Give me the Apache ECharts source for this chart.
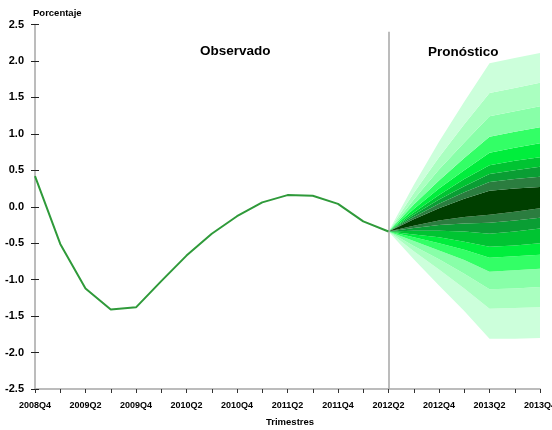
<!DOCTYPE html>
<html>
<head>
<meta charset="utf-8">
<script src="https://cdn.jsdelivr.net/npm/echarts@6/dist/echarts.min.js"></script>
<style>
html,body{margin:0;padding:0;background:#fff;}
#chart{width:552px;height:430px;}
</style>
</head>
<body>
<div id="chart"></div>
<script>
// Categories (quarters)
const quarters = ['2008Q4','2009Q1','2009Q2','2009Q3','2009Q4','2010Q1','2010Q2','2010Q3','2010Q4',
  '2011Q1','2011Q2','2011Q3','2011Q4','2012Q1','2012Q2','2012Q3','2012Q4','2013Q1','2013Q2','2013Q3','2013Q4'];
// Observed series 2008Q4..2012Q2
const observed = [0.42,-0.51,-1.12,-1.41,-1.38,-1.02,-0.67,-0.37,-0.13,0.06,0.16,0.15,0.04,-0.20,-0.34];
// Fan chart boundaries 2012Q2..2013Q4 (lowest to highest)
const fanQuarters = ['2012Q2','2012Q3','2012Q4','2013Q1','2013Q2','2013Q3','2013Q4'];
const lo9 = [-0.34,-0.72,-1.08,-1.43,-1.81,-1.81,-1.80];
const lo8 = [-0.34,-0.61,-0.86,-1.12,-1.40,-1.39,-1.38];
const lo7 = [-0.34,-0.54,-0.72,-0.92,-1.13,-1.12,-1.10];
const lo6 = [-0.34,-0.47,-0.60,-0.73,-0.89,-0.87,-0.85];
const lo5 = [-0.34,-0.42,-0.50,-0.59,-0.70,-0.68,-0.66];
const lo4 = [-0.34,-0.38,-0.42,-0.48,-0.55,-0.53,-0.50];
const lo3 = [-0.34,-0.33,-0.33,-0.34,-0.37,-0.34,-0.30];
const lo2 = [-0.34,-0.29,-0.25,-0.23,-0.22,-0.19,-0.15];
const lo1 = [-0.34,-0.26,-0.19,-0.14,-0.11,-0.07,-0.02];
const hi1 = [-0.34,-0.17,-0.02,0.11,0.22,0.25,0.27];
const hi2 = [-0.34,-0.14,0.04,0.20,0.34,0.38,0.41];
const hi3 = [-0.34,-0.11,0.10,0.28,0.45,0.50,0.55];
const hi4 = [-0.34,-0.08,0.16,0.38,0.57,0.63,0.68];
const hi5 = [-0.34,-0.03,0.25,0.50,0.74,0.81,0.87];
const hi6 = [-0.34,0.03,0.36,0.67,0.96,1.03,1.09];
const hi7 = [-0.34,0.10,0.51,0.88,1.24,1.31,1.38];
const hi8 = [-0.34,0.19,0.68,1.13,1.56,1.63,1.70];
const hi9 = [-0.34,0.30,0.89,1.44,1.97,2.04,2.11];
// Tick labels
const yTicks = [-2.5,-2.0,-1.5,-1.0,-0.5,0.0,0.5,1.0,1.5,2.0,2.5];

const bounds = [lo9,lo8,lo7,lo6,lo5,lo4,lo3,lo2,lo1,hi1,hi2,hi3,hi4,hi5,hi6,hi7,hi8,hi9];
const bandColors = ['#ccffdb','#aaffc0','#88ffa8','#33ff66','#00ee3c','#00c432','#0a9e34','#2b7d3f','#003f00',
  '#2b7d3f','#0a9e34','#00c432','#00ee3c','#33ff66','#88ffa8','#aaffc0','#ccffdb'];

const startIdx = quarters.indexOf(fanQuarters[0]);
function pad(arr){
  const out = quarters.map(() => '-');
  arr.forEach((v,i) => { out[startIdx+i] = v; });
  return out;
}
const obsFull = quarters.map((q,i) => i < observed.length ? observed[i] : '-');

const series = [];
series.push({
  name:'base', type:'line', stack:'fan', stackStrategy:'all', data: pad(bounds[0]),
  symbol:'none', lineStyle:{opacity:0}, silent:true, z:1
});
for (let k = 1; k < bounds.length; k++) {
  const diff = bounds[k].map((v,i) => +(v - bounds[k-1][i]).toFixed(4));
  series.push({
    name:'band'+k, type:'line', stack:'fan', stackStrategy:'all', data: pad(diff),
    symbol:'none', lineStyle:{width:0, opacity:0},
    areaStyle:{color: bandColors[k-1], opacity:1}, silent:true, z:1
  });
}
series.push({
  name:'Observado', type:'line', data: obsFull, symbol:'none',
  lineStyle:{color:'#2f9a3a', width:2}, z:5,
  markLine:{
    silent:true, symbol:['none','none'], label:{show:false},
    lineStyle:{color:'#a6a6a6', width:1.5, type:'solid'},
    data:[[{coord:['2012Q2', 2.4]},{coord:['2012Q2', -2.5]}]]
  }
});

const chart = echarts.init(document.getElementById('chart'), null, {renderer:'canvas'});
chart.setOption({
  animation:false,
  backgroundColor:'#ffffff',
  grid:{left:35, right:12, top:24.5, bottom:41, containLabel:false, outerBoundsMode:'none'},
  xAxis:{
    type:'category', data: quarters, boundaryGap:false,
    axisLine:{show:true, onZero:false, lineStyle:{color:'#a6a6a6', width:1.5}},
    axisTick:{show:true, interval:0, length:4, lineStyle:{color:'#333'}},
    axisLabel:{interval:1, color:'#000', fontSize:9, fontWeight:'bold', fontFamily:'Liberation Sans, Arial', margin:12},
    splitLine:{show:false}
  },
  yAxis:[{
    type:'value', min:-2.5, max:2.5, interval:0.5,
    axisLine:{show:true, lineStyle:{color:'#a6a6a6', width:1.5}},
    axisTick:{show:true, length:4, lineStyle:{color:'#222'}},
    axisLabel:{color:'#000', fontSize:11, fontWeight:'bold', fontFamily:'Liberation Sans, Arial', margin:11,
      formatter: v => { const t = yTicks.find(x => Math.abs(x - v) < 1e-9); return (t === undefined ? v : t).toFixed(1); }},
    splitLine:{show:false}
  },{
    type:'value', min:-2.5, max:2.5, interval:0.5, position:'left',
    axisLine:{show:false},
    axisTick:{show:true, inside:true, length:4, lineStyle:{color:'#222'}},
    axisLabel:{show:false}, splitLine:{show:false}
  }],
  graphic:[
    {type:'text', left:33, top:8, style:{text:'Porcentaje', fontSize:9.5, fontWeight:'bold', fontFamily:'Liberation Sans, Arial', fill:'#000'}},
    {type:'text', left:200, top:44, style:{text:'Observado', fontSize:13.5, fontWeight:'bold', fontFamily:'Liberation Sans, Arial', fill:'#000'}},
    {type:'text', left:428, top:45, style:{text:'Pronóstico', fontSize:13.5, fontWeight:'bold', fontFamily:'Liberation Sans, Arial', fill:'#000'}},
    {type:'text', left:266, top:417, style:{text:'Trimestres', fontSize:9.5, fontWeight:'bold', fontFamily:'Liberation Sans, Arial', fill:'#000'}}
  ],
  series: series
});
</script>
</body>
</html>
